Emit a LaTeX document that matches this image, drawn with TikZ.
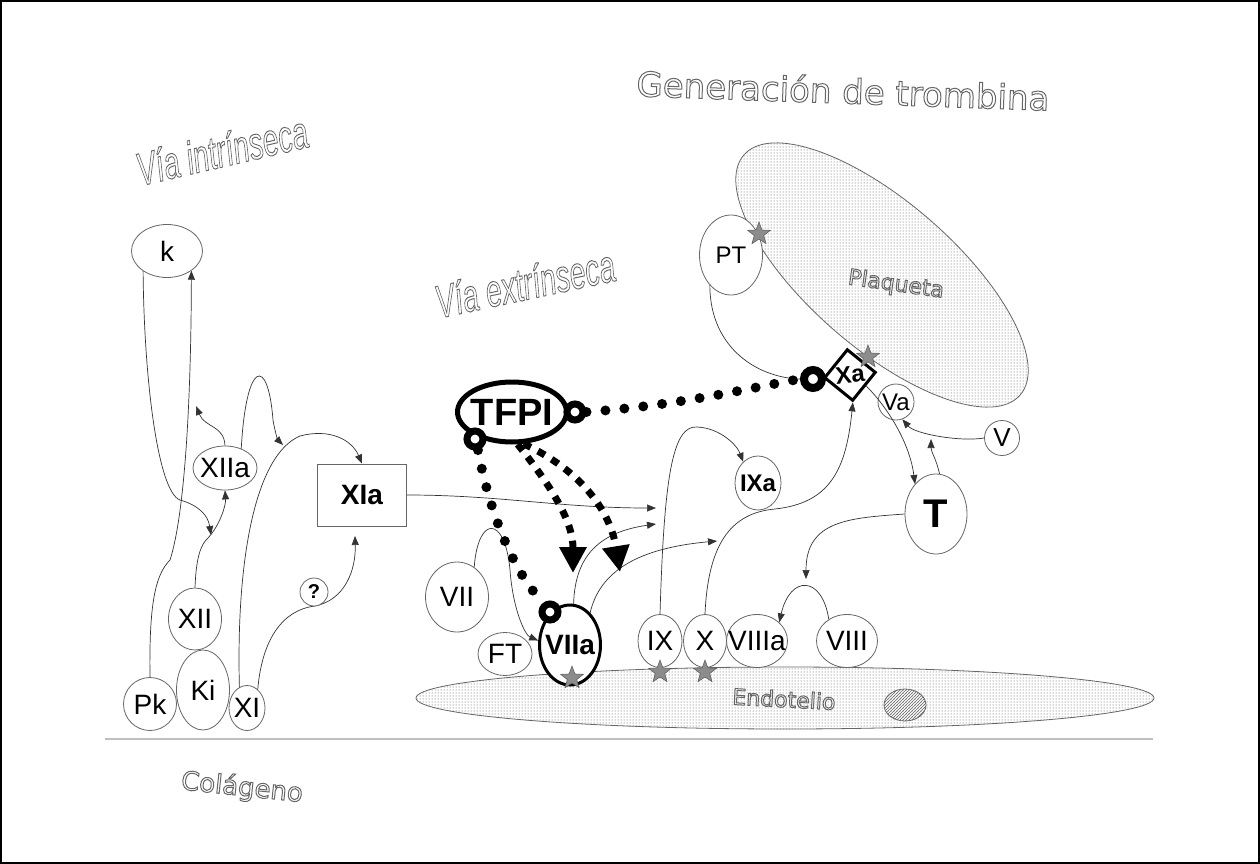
\documentclass[tikz,border=0pt]{standalone}
\usepackage{fontspec}
\setmainfont{Liberation Sans}
\newfontfamily\rotulo{DejaVu Sans}
\usetikzlibrary{shapes.geometric, arrows.meta, patterns, positioning}

% letras huecas (solo el trazo del contorno)
\newcommand{\hueco}[1]{{\color{black!60}\special{pdf:literal direct 1 Tr 1 w}#1\special{pdf:literal direct 0 Tr}}}

\begin{document}
\begin{tikzpicture}[
    x=1pt, y=-1pt,
    factor/.style={draw=black!60, fill=white, ellipse, inner sep=0pt, line width=0.8pt,
      font=\fontsize{28}{28}\selectfont,
      execute at begin node={\hbox to 0pt\bgroup\hss},
      execute at end node={\hss\egroup}},
    activo/.style={factor, font=\fontsize{28}{28}\selectfont\bfseries},
    anillo/.style={draw, circle, line width=7pt, fill=white, minimum size=16pt, inner sep=0pt},
    sitio/.style={star, star points=5, star point ratio=2.4, minimum size=24pt, inner sep=0pt,
      fill=black!45, draw=black!65, line width=0.5pt},
    titulo/.style={inner sep=0pt, font=\rotulo\fontsize{24}{24}\selectfont},
    enlace/.style={draw=black!80, line width=0.7pt},
    puntos/.style={line width=10pt, line cap=round, dash pattern=on 0pt off 19pt},
    guiones/.style={line width=7pt, dash pattern=on 8pt off 8pt},
    >={Triangle[length=9pt, width=7pt]}
  ]
  \useasboundingbox (0,0) rectangle (1260,864);
  \draw[line width=1.5pt] (1,1) rectangle (1259,863);
  \draw[black!25, line width=1.2pt] (105,739) -- (1153,739);

  % membranas
  \node[ellipse, draw=black!60, line width=0.8pt, pattern=dots, pattern color=black!70,
    minimum width=738pt, minimum height=62pt] (endotelio) at (785,698) {};
  \node[ellipse, draw=black!60, line width=0.8pt, pattern=north east lines, pattern color=black!60,
    minimum width=42pt, minimum height=32pt] (nucleo) at (905,705) {};
  \node[ellipse, draw=black!60, line width=0.8pt, pattern=dots, pattern color=black!70,
    minimum width=366pt, minimum height=146pt, rotate=-41] (plaqueta) at (882,275) {};

  % títulos
  \node[titulo, font=\rotulo\fontsize{34}{34}\selectfont, rotate=-2] (generacion) at (843,90) {\hueco{Generación de trombina}};
  \node[titulo, rotate=13] (intrinseca) at (222,150)
    {\scalebox{0.62}[1]{\rmfamily\itshape\fontsize{46}{46}\selectfont\hueco{Vía intrínseca}}};
  \node[titulo, rotate=12] (extrinseca) at (525,283)
    {\scalebox{0.62}[1]{\rmfamily\itshape\fontsize{46}{46}\selectfont\hueco{Vía extrínseca}}};
  \node[titulo, font=\rotulo\fontsize{26}{26}\selectfont, rotate=-6] (colageno) at (242,788) {\hueco{Colágeno}};
  \node[titulo, font=\rotulo\fontsize{22}{22}\selectfont, rotate=-3] (lendotelio) at (784,699) {\hueco{Endotelio}};
  \node[titulo, font=\rotulo\fontsize{22}{22}\selectfont, rotate=-8] (lplaqueta) at (896,285) {\hueco{Plaqueta}};

  % factores, vía intrínseca
  \node[factor, minimum width=71pt, minimum height=53pt] (k) at (167,251) {k};
  \node[factor, minimum width=64pt, minimum height=44pt] (xiia) at (225,468) {XIIa};
  \node[draw=black!60, fill=white, line width=0.8pt, minimum width=89pt, minimum height=62pt,
    font=\fontsize{28}{28}\selectfont\bfseries] (xia) at (362,495) {XIa};
  \node[factor, minimum width=53pt, minimum height=62pt] (xii) at (195,619) {XII};
  \node[factor, minimum width=53pt, minimum height=80pt] (ki) at (203,690) {Ki};
  \node[factor, minimum width=53pt, minimum height=53pt] (pk) at (150,704) {Pk};
  \node[factor, minimum width=36pt, minimum height=45pt] (xi) at (247,708) {XI};

  % factores, vía extrínseca
  \node[factor, minimum width=63pt, minimum height=70pt] (vii) at (457,597) {VII};
  \node[factor, minimum width=54pt, minimum height=43pt] (ft) at (505,654) {FT};
  \node[activo, draw=black, line width=3pt, minimum width=61pt, minimum height=80pt] (viia) at (570,645) {VIIa};
  \node[activo, draw=black, line width=5pt, minimum width=109pt, minimum height=60pt,
    font=\fontsize{38}{38}\selectfont\bfseries] (tfpi) at (512,412) {TFPI};
  \node[factor, minimum width=44pt, minimum height=53pt] (ix) at (660,641) {IX};
  \node[factor, minimum width=43pt, minimum height=53pt] (x) at (705,641) {X};
  \node[factor, minimum width=61pt, minimum height=53pt] (viiia) at (757,641) {VIIIa};
  \node[factor, minimum width=61pt, minimum height=53pt] (viii) at (847,641) {VIII};
  \node[activo, minimum width=46pt, minimum height=54pt, font=\fontsize{24}{24}\selectfont\bfseries] (ixa) at (758,483) {IXa};

  % generación de trombina
  \node[factor, minimum width=63pt, minimum height=80pt, font=\fontsize{24}{24}\selectfont] (pt) at (731,255) {PT};
  \node[draw, diamond, aspect=1, line width=3pt, fill=white, minimum size=52pt, inner sep=0pt,
    rotate=6, font=\fontsize{24}{24}\selectfont\bfseries] (xa) at (850,375) {Xa};
  \node[factor, circle, minimum size=36pt, font=\fontsize{24}{24}\selectfont] (va) at (896,402) {Va};
  \node[factor, circle, minimum size=35pt, font=\fontsize{26}{26}\selectfont] (v) at (1002,438) {V};
  \node[factor, minimum width=62pt, minimum height=80pt, font=\fontsize{40}{40}\selectfont\bfseries] (t) at (936,514) {T};

  % uniones del TFPI
  \node[anillo] (anillo1) at (575,412) {};
  \node[anillo] (anillo2) at (475,439) {};
  \node[anillo] (anillo3) at (550,612) {};
  \node[anillo, line width=8pt, minimum size=18pt] (anillo4) at (813,379) {};

  % puntos libres de las flechas
  \coordinate (haciaXIIa) at (211,535);
  \coordinate (haciaK) at (196,406);
  \coordinate (haciaXI) at (283,445);
  \coordinate (bajoXIa) at (355,536);
  \coordinate (sobreIX) at (656,508);
  \coordinate (sobreIXb) at (656,524);
  \coordinate (sobreX) at (717,541);
  \coordinate (sobreT) at (931,439);
  \coordinate (haciaVIII) at (806,579);
  \coordinate (frenoA) at (573,573);
  \coordinate (frenoB) at (620,572);

  % vía intrínseca
  \draw[enlace,->] (pk.north) .. controls (149,605) and (155,575) .. (170,560) .. controls (183,520) and (191,420) .. (k.-39);
  \draw[enlace,->] (k.-140) .. controls (144,380) and (158,492) .. (180,500) .. controls (198,505) and (208,515) .. (haciaXIIa);
  \draw[enlace,->] (xii.north) .. controls (196,560) and (200,545) .. (208,538) .. controls (220,525) and (226,505) .. (xiia.south);
  \draw[enlace,->] (xiia.north) .. controls (224,425) and (205,428) .. (haciaK);
  \draw[enlace,->] (xiia.50) .. controls (246,360) and (268,355) .. (273,420) .. controls (275,432) and (278,440) .. (haciaXI);
  \draw[enlace,->] (xi.110) .. controls (236,560) and (255,455) .. (300,436) .. controls (330,428) and (352,440) .. (xia.north);
  \draw[enlace,->] (xi.60) .. controls (262,640) and (282,610) .. (315,606) .. controls (345,600) and (356,570) .. (bajoXIa);
  \draw[enlace,->] (xia.east) .. controls (500,495) and (560,508) .. (sobreIX);

  % vía extrínseca
  \draw[enlace,->] (vii.60) .. controls (478,515) and (505,515) .. (510,570) .. controls (513,610) and (525,635) .. (viia.172);
  \draw[enlace,->] (viia.85) .. controls (575,555) and (600,532) .. (sobreIXb);
  \draw[enlace,->] (viia.58) .. controls (600,570) and (640,548) .. (sobreX);
  \draw[enlace,->] (ix.north) .. controls (664,480) and (672,425) .. (697,427) .. controls (720,428) and (737,445) .. (ixa.125);
  \draw[enlace,->] (x.north) .. controls (708,545) and (730,513) .. (775,509) .. controls (830,503) and (846,470) .. (xa.south);

  % trombina
  \draw[enlace] (pt.-125) .. controls (710,350) and (760,378) .. (anillo4.west);
  \draw[enlace,->] (xa.-40) .. controls (890,410) and (910,445) .. (t.125);
  \draw[enlace,->] (t.85) .. controls (936,458) and (931,452) .. (sobreT);
  \draw[enlace,->] (v.west) .. controls (960,442) and (915,434) .. (va.-70);
  \draw[enlace,->] (t.west) .. controls (850,518) and (806,520) .. (haciaVIII);
  \draw[enlace,->] (viii.130) .. controls (822,575) and (790,575) .. (viiia.40);

  % inhibición por TFPI
  \draw[puntos] (anillo1.east) .. controls (680,405) and (740,390) .. (anillo4.west);
  \draw[puntos] (anillo2.-75) .. controls (490,515) and (515,575) .. (anillo3.125);
  \draw[guiones, -{Triangle[length=26pt, width=26pt]}] (tfpi.-80) .. controls (550,485) and (573,520) .. (frenoA);
  \draw[guiones, -{Triangle[length=26pt, width=26pt]}] (tfpi.-70) .. controls (580,470) and (610,510) .. (frenoB);

  \node[draw=black!60, circle, fill=white, line width=0.8pt, minimum size=28pt, inner sep=0pt,
    font=\fontsize{20}{20}\selectfont\bfseries] (pregunta) at (314,592) {?};

  % sitios de unión
  \node[sitio] (sitio1) at (572,678) {};
  \node[sitio] (sitio2) at (660,672) {};
  \node[sitio] (sitio3) at (705,672) {};
  \node[sitio] (sitio4) at (759,234) {};
  \node[sitio] (sitio5) at (868,357) {};
\end{tikzpicture}
\end{document}
